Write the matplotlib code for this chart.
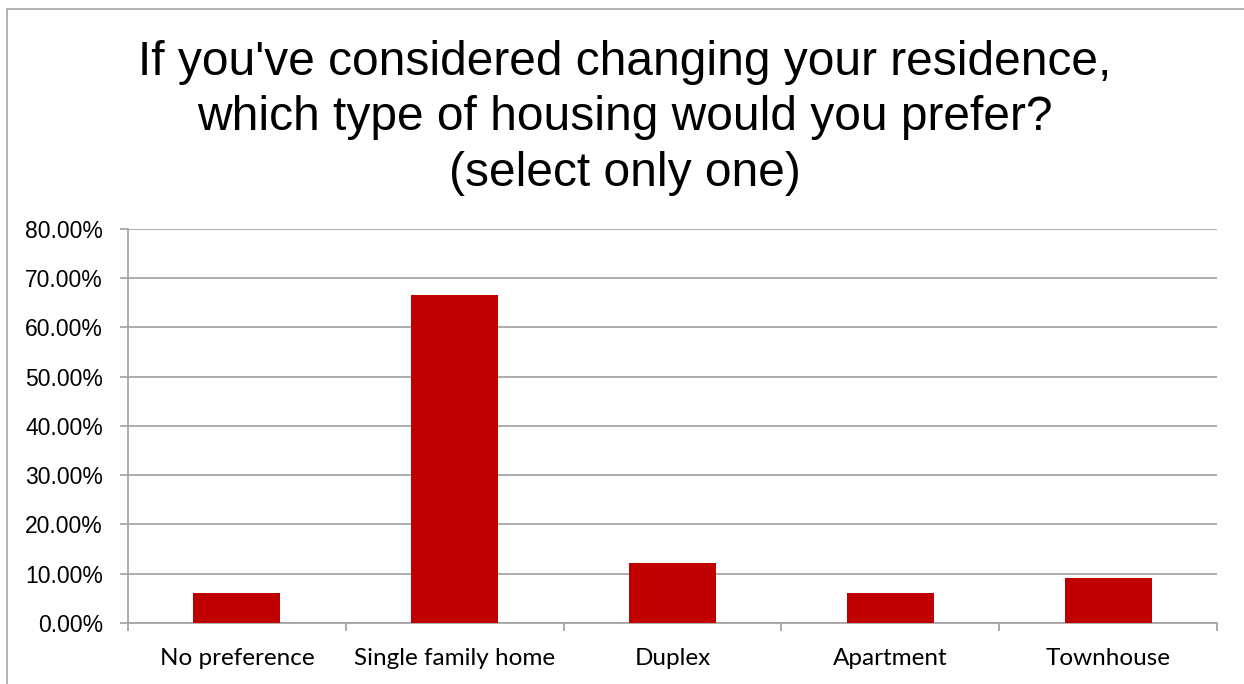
import matplotlib.pyplot as plt
from matplotlib.patches import Rectangle
from matplotlib.ticker import FuncFormatter, MultipleLocator

# survey answers, share of respondents
categories = ["No preference", "Single family home", "Duplex", "Apartment", "Townhouse"]
shares = [6.06, 66.67, 12.12, 6.06, 9.09]

title = ("If you've considered changing your residence,\n"
         "which type of housing would you prefer?\n"
         "(select only one)")

grid_gray = "#a6a6a6"

fig = plt.figure(figsize=(12.44, 6.84), dpi=100)
ax = fig.add_axes([0.1029, 0.0892, 0.8754, 0.576])

# chart border, cut off at the right and bottom
fig.patches.append(Rectangle((6.5 / 1244, -0.1), 1.2, 1.1 - 9.5 / 684,
                             transform=fig.transFigure, fill=False,
                             edgecolor=grid_gray, linewidth=1.2))

x = range(len(categories))
ax.bar(x, shares, width=0.4, color="#c00000", zorder=3)

ax.set_xlim(-0.5, len(categories) - 0.5)
ax.set_ylim(0, 80)
ax.yaxis.set_major_locator(MultipleLocator(10))
ax.yaxis.set_major_formatter(FuncFormatter(lambda v, p: f"{v:.2f}%"))
ax.grid(axis="y", color=grid_gray, linewidth=1.3, zorder=0)

for side in ["top", "right"]:
    ax.spines[side].set_visible(False)
ax.spines["left"].set_color(grid_gray)
ax.spines["bottom"].set_color(grid_gray)
ax.spines["left"].set_linewidth(1.3)
ax.spines["bottom"].set_linewidth(1.3)

# category labels sit between boundary ticks
ax.set_xticks([i - 0.5 for i in range(len(categories) + 1)])
ax.set_xticklabels([])
ax.set_xticks(list(x), minor=True)
ax.set_xticklabels(categories, minor=True, fontfamily="Lato", fontsize=17.5)
ax.tick_params(axis="x", which="major", length=6, color=grid_gray, width=1.3)
ax.tick_params(axis="x", which="minor", length=0, pad=18)
ax.tick_params(axis="y", length=6, color=grid_gray, width=1.3, pad=12)
for lbl in ax.get_yticklabels():
    lbl.set_fontfamily("Liberation Sans")
    lbl.set_fontsize(16.5)

fig.text(0.5025, 0.828, title, ha="center", va="center", fontsize=34.5,
         fontfamily="Liberation Sans", linespacing=1.3)

fig.savefig("out.png", dpi=100)
